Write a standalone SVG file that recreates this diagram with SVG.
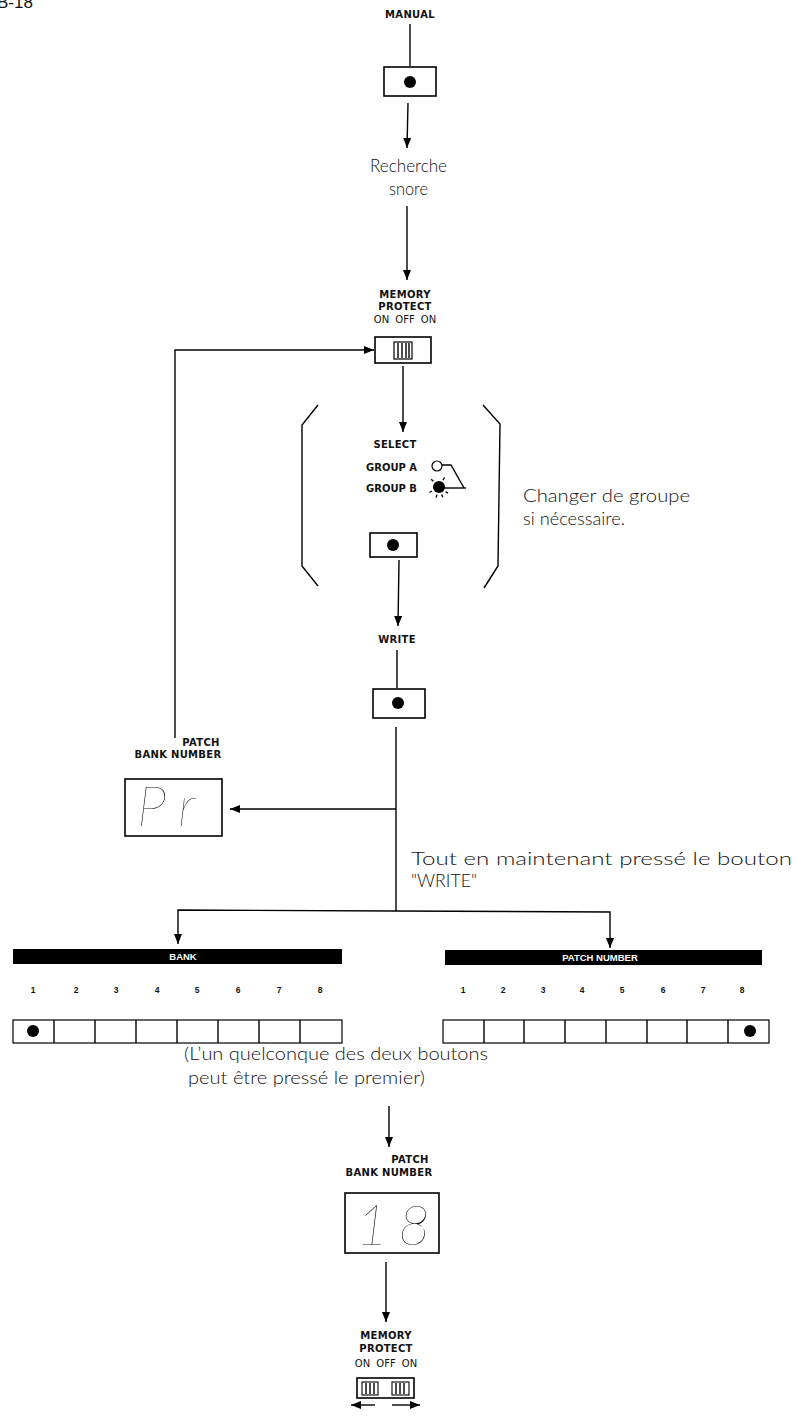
<svg xmlns="http://www.w3.org/2000/svg" width="803" height="1416" viewBox="0 0 803 1416">
<defs>
<marker id="ah" markerUnits="userSpaceOnUse" markerWidth="10" markerHeight="8" refX="10" refY="4" orient="auto">
<path d="M0,0 L10,4 L0,8 z" fill="#000"/>
</marker>
<style>
.ln{stroke:#000;stroke-width:1.4;fill:none}
.box{stroke:#000;stroke-width:1.6;fill:#fff}
.dot{fill:#000}
.lab{font-family:"DejaVu Sans","Liberation Sans",sans-serif;font-size:10px;font-weight:bold;fill:#111;text-anchor:middle;letter-spacing:0.3px}
.lab2{font-family:"DejaVu Sans","Liberation Sans",sans-serif;font-size:10px;fill:#111;text-anchor:middle;word-spacing:3px}
.fr{font-family:"Lato","DejaVu Sans",sans-serif;font-weight:300;font-size:17px;fill:#111}
.num{font-family:"Liberation Sans",sans-serif;font-size:8.5px;font-weight:bold;fill:#111;text-anchor:middle}
.bar{fill:#000}
.bt{font-family:"Liberation Sans",sans-serif;font-size:9.5px;font-weight:bold;fill:#fff;text-anchor:middle}
.seg{font-family:"Lato","DejaVu Sans",sans-serif;font-weight:200;font-style:italic;font-size:56px;fill:#111}
.cell{stroke:#000;stroke-width:1.2;fill:#fff}
</style>
</defs>
<rect width="803" height="1416" fill="#fff"/>
<text x="-3" y="8" font-family="Liberation Sans, sans-serif" font-size="17" fill="#111">B-18</text>

<g id="connectors">
<line class="ln" x1="410" y1="24" x2="410" y2="66"/>
<line class="ln" x1="408" y1="103" x2="407" y2="148" marker-end="url(#ah)"/>
<line class="ln" x1="407" y1="206" x2="407" y2="280" marker-end="url(#ah)"/>
<polyline class="ln" points="175,738 175,350 374,350" marker-end="url(#ah)"/>
<line class="ln" x1="403" y1="366" x2="403" y2="432" marker-end="url(#ah)"/>
<line class="ln" x1="399" y1="560" x2="398" y2="626" marker-end="url(#ah)"/>
<line class="ln" x1="397" y1="650" x2="397" y2="688"/>
<line class="ln" x1="396" y1="727" x2="396" y2="911"/>
<line class="ln" x1="396" y1="809" x2="230" y2="809" marker-end="url(#ah)"/>
<polyline class="ln" points="396,911 178,910 178,944" marker-end="url(#ah)"/>
<polyline class="ln" points="396,911 610,912 610,948" marker-end="url(#ah)"/>
<line class="ln" x1="389" y1="1106" x2="389" y2="1147" marker-end="url(#ah)"/>
<line class="ln" x1="386" y1="1262" x2="386" y2="1322" marker-end="url(#ah)"/>
<line class="ln" x1="375" y1="1405" x2="351" y2="1405" marker-end="url(#ah)"/>
<line class="ln" x1="392" y1="1405" x2="420" y2="1405" marker-end="url(#ah)"/>
</g>

<g id="manual">
<text class="lab" x="410" y="18">MANUAL</text>
<rect class="box" x="384" y="67" width="52" height="29"/>
<circle class="dot" cx="410" cy="82" r="6"/>
</g>

<g id="recherche">
<text class="fr" x="370" y="172" textLength="77" lengthAdjust="spacingAndGlyphs">Recherche</text>
<text class="fr" x="389" y="195" textLength="39" lengthAdjust="spacingAndGlyphs">snore</text>
</g>

<g id="memory-protect-1">
<text class="lab" x="405" y="298">MEMORY</text>
<text class="lab" x="405" y="310">PROTECT</text>
<text class="lab2" x="405" y="323">ON OFF ON</text>
<rect class="box" x="375" y="337" width="56" height="26"/>
<rect x="394" y="342" width="18" height="17" fill="#fff" stroke="#000" stroke-width="1.2"/>
<path class="ln" d="M398,343 V358 M402,343 V358 M406,343 V358 M409,343 V358" stroke-width="1"/>
</g>

<g id="select-group">
<polyline class="ln" points="318,405 302,425 302,566 318,586"/>
<polyline class="ln" points="483,405 500,424 498,566 484,588"/>
<text class="lab" x="395" y="448">SELECT</text>
<text class="lab" x="366" y="471" style="text-anchor:start;letter-spacing:0">GROUP A</text>
<text class="lab" x="366" y="492" style="text-anchor:start;letter-spacing:0">GROUP B</text>
<circle cx="437" cy="466" r="5" fill="#fff" stroke="#000" stroke-width="1.2"/>
<circle class="dot" cx="439" cy="487" r="6"/>
<polyline class="ln" points="442,465 451,465 464,488" stroke-width="1.2"/>
<line class="ln" x1="444" y1="488" x2="466" y2="488" stroke-width="1.2"/>
<path class="ln" stroke-width="1" d="M433.3,481.3 L431.2,479.2 M432.1,491 L429.5,492.5 M436.9,494.7 L436.2,497.6 M441.7,494.5 L442.8,497.3 M445.6,491.6 L448,493.3 M443,480.1 L444.5,477.5"/>
<rect class="box" x="370" y="533" width="47" height="24"/>
<circle class="dot" cx="393" cy="545" r="6"/>
<text class="fr" x="523" y="502" textLength="167" lengthAdjust="spacingAndGlyphs">Changer de groupe</text>
<text class="fr" x="523" y="525" textLength="102" lengthAdjust="spacingAndGlyphs">si nécessaire.</text>
</g>

<g id="write">
<text class="lab" x="397" y="643">WRITE</text>
<rect class="box" x="373" y="689" width="52" height="29"/>
<circle class="dot" cx="398" cy="703" r="6"/>
</g>

<g id="display-pr">
<text class="lab" x="201" y="746">PATCH</text>
<text class="lab" x="178" y="758">BANK NUMBER</text>
<rect class="box" x="125" y="779" width="97" height="57"/>
<text class="seg" x="137" y="826">P<tspan x="178">r</tspan></text>
</g>

<g id="hold-note">
<text class="fr" x="411" y="865" textLength="381" lengthAdjust="spacingAndGlyphs">Tout en maintenant pressé le bouton</text>
<text class="fr" x="411" y="887" textLength="66" lengthAdjust="spacingAndGlyphs">"WRITE"</text>
</g>

<g id="bank">
<rect class="bar" x="13" y="949" width="329" height="15"/>
<text class="bt" x="183" y="960">BANK</text>
<text class="num" x="33" y="993">1</text><text class="num" x="76" y="993">2</text><text class="num" x="116" y="993">3</text><text class="num" x="157" y="993">4</text><text class="num" x="197" y="993">5</text><text class="num" x="238" y="993">6</text><text class="num" x="279" y="993">7</text><text class="num" x="320" y="993">8</text>
<rect class="cell" x="13" y="1020" width="329" height="23"/>
<path class="ln" stroke-width="1.2" d="M54,1020 V1043 M95,1020 V1043 M136,1020 V1043 M177,1020 V1043 M218,1020 V1043 M259,1020 V1043 M300,1020 V1043"/>
<circle class="dot" cx="33" cy="1031" r="6"/>
</g>

<g id="patch-number">
<rect class="bar" x="445" y="950" width="317" height="15"/>
<text class="bt" x="600" y="961">PATCH NUMBER</text>
<text class="num" x="463" y="993">1</text><text class="num" x="503" y="993">2</text><text class="num" x="543" y="993">3</text><text class="num" x="582" y="993">4</text><text class="num" x="622" y="993">5</text><text class="num" x="663" y="993">6</text><text class="num" x="703" y="993">7</text><text class="num" x="742" y="993">8</text>
<rect class="cell" x="443" y="1020" width="326" height="23"/>
<path class="ln" stroke-width="1.2" d="M484,1020 V1043 M524,1020 V1043 M565,1020 V1043 M606,1020 V1043 M647,1020 V1043 M687,1020 V1043 M728,1020 V1043"/>
<circle class="dot" cx="750" cy="1031" r="6"/>
</g>

<g id="either-note">
<text class="fr" x="184" y="1060" textLength="304" lengthAdjust="spacingAndGlyphs">(L’un quelconque des deux boutons</text>
<text class="fr" x="188" y="1084" textLength="237" lengthAdjust="spacingAndGlyphs">peut être pressé le premier)</text>
</g>

<g id="display-18">
<text class="lab" x="410" y="1163">PATCH</text>
<text class="lab" x="389" y="1176">BANK NUMBER</text>
<rect class="box" x="345" y="1193" width="94" height="60"/>
<text class="seg" x="356" y="1245">1<tspan x="398">8</tspan></text>
</g>

<g id="memory-protect-2">
<text class="lab" x="386" y="1339">MEMORY</text>
<text class="lab" x="386" y="1352">PROTECT</text>
<text class="lab2" x="386" y="1367">ON OFF ON</text>
<rect class="box" x="357" y="1378" width="57" height="20"/>
<rect x="362" y="1382" width="16" height="13" fill="#fff" stroke="#000" stroke-width="1.1"/>
<rect x="392" y="1382" width="17" height="13" fill="#fff" stroke="#000" stroke-width="1.1"/>
<path class="ln" stroke-width="0.9" d="M366,1383 V1394 M370,1383 V1394 M374,1383 V1394 M396,1383 V1394 M400,1383 V1394 M404,1383 V1394"/>
</g>
</svg>
